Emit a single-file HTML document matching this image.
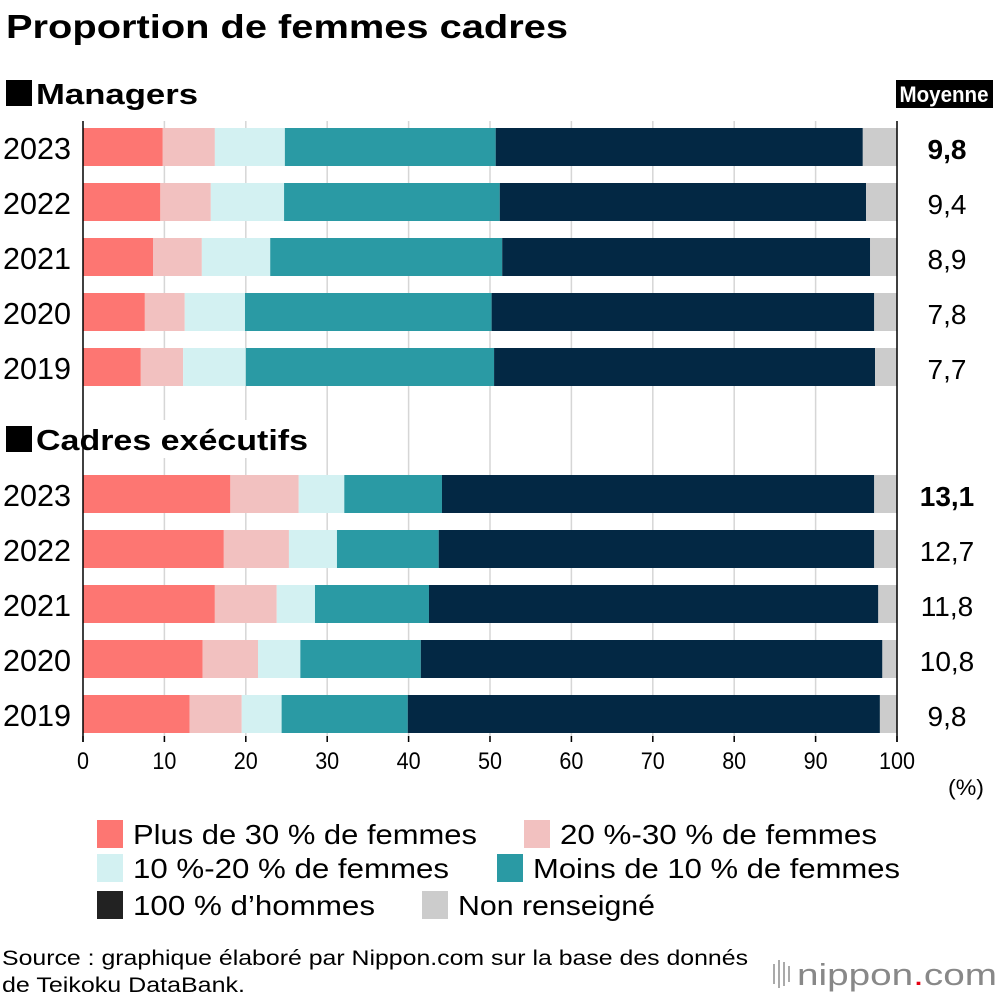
<!DOCTYPE html>
<html><head><meta charset="utf-8"><style>
html,body{margin:0;padding:0;background:#fff}
svg{display:block;font-family:"Liberation Sans Narrow","Liberation Sans",sans-serif}
</style></head><body>
<svg id="chart" width="1000" height="1000" viewBox="0 0 1000 1000" xmlns="http://www.w3.org/2000/svg">
<text x="6" y="38" font-size="33" font-weight="bold" font-family="Liberation Sans, sans-serif" textLength="562" lengthAdjust="spacingAndGlyphs">Proportion de femmes cadres</text>
<rect x="6" y="80" width="26" height="26" fill="#000"/>
<text x="36" y="104" font-size="29" font-weight="bold" font-family="Liberation Sans, sans-serif" textLength="162" lengthAdjust="spacingAndGlyphs">Managers</text>
<rect x="896" y="80" width="97" height="28" fill="#000"/>
<text x="944" y="102" font-size="22" font-weight="bold" fill="#fff" text-anchor="middle" textLength="89" lengthAdjust="spacingAndGlyphs">Moyenne</text>
<rect x="6" y="426" width="26" height="26" fill="#000"/>
<g id="grid"></g>
<rect x="34" y="420" width="280" height="38" fill="#fff"/>
<text x="36" y="450" font-size="29" font-weight="bold" font-family="Liberation Sans, sans-serif" textLength="272" lengthAdjust="spacingAndGlyphs">Cadres exécutifs</text>
<g id="bars"></g><g id="axis"></g><g id="legend"></g>
<text x="966" y="795" font-size="22" text-anchor="middle" textLength="36" lengthAdjust="spacingAndGlyphs">(%)</text>
<text x="2" y="965" font-size="21" textLength="746" lengthAdjust="spacingAndGlyphs">Source : graphique élaboré par Nippon.com sur la base des donnés</text>
<text x="2" y="992" font-size="21" textLength="243" lengthAdjust="spacingAndGlyphs">de Teikoku DataBank.</text>
<g>
<rect x="773" y="964" width="2" height="20" fill="#aaa"/><rect x="778" y="960" width="2" height="28" fill="#aaa"/><rect x="783" y="962" width="2" height="24" fill="#aaa"/><rect x="788" y="966" width="2" height="16" fill="#aaa"/>
<text x="797" y="985" font-size="31" fill="#888" textLength="200" lengthAdjust="spacingAndGlyphs">nippon<tspan fill="#e60012">.</tspan>com</text>
</g>
</svg>
<script>
const years = ['2023','2022','2021','2020','2019'];
const mgrPlus30 = [9.8,9.5,8.6,7.6,7.1];
const mgr20to30 = [6.4,6.2,6.0,4.9,5.2];
const mgr10to20 = [8.6,9.0,8.4,7.4,7.7];
const mgrUnder10 = [25.9,26.5,28.5,30.3,30.5];
const mgrMen = [45.1,45.0,45.2,47.0,46.8];
const mgrNA = [4.2,3.8,3.3,2.8,2.7];
const mgrAvg = ['9,8','9,4','8,9','7,8','7,7'];
const exePlus30 = [18.1,17.3,16.2,14.7,13.1];
const exe20to30 = [8.4,8.0,7.6,6.8,6.4];
const exe10to20 = [5.6,5.9,4.7,5.2,4.9];
const exeUnder10 = [12.0,12.5,14.0,14.8,15.5];
const exeMen = [53.1,53.5,55.2,56.7,58.0];
const exeNA = [2.8,2.8,2.3,1.8,2.1];
const exeAvg = ['13,1','12,7','11,8','10,8','9,8'];
const ticks = [0,10,20,30,40,50,60,70,80,90,100];
const seriesNames = ['Plus de 30 % de femmes','20 %-30 % de femmes','10 %-20 % de femmes','Moins de 10 % de femmes','100 % d\u2019hommes','Non renseigné'];
const colors = ['#fd7672','#f2c1c0','#d3f1f2','#2a9aa4','#032844','#cccccc'];
const NS='http://www.w3.org/2000/svg';
const X0=83, X1=897;
const x = v => X0 + (X1-X0)*v/100;
function mk(tag, attrs, parent){const e=document.createElementNS(NS,tag);for(const k in attrs)e.setAttribute(k,attrs[k]);parent.appendChild(e);return e;}
const grid=document.getElementById('grid'), bars=document.getElementById('bars'), axis=document.getElementById('axis'), legend=document.getElementById('legend');
ticks.forEach(t=>{
  if(t>0&&t<100){const l=mk('line',{x1:x(t),x2:x(t),y1:121,y2:742,stroke:'#d6d6d6','stroke-width':1.5},grid);
  
  }
  const tk=mk('line',{x1:x(t),x2:x(t),y1:736,y2:742,stroke:'#000','stroke-width':1.5},axis);
  
  
  const tl=mk('text',{x:x(t),y:769,'font-size':24,'text-anchor':'middle',textLength:String(t).length*12,lengthAdjust:'spacingAndGlyphs'},axis);
  tl.textContent=t;
  
  
});
[[X0,'y-axis-left'],[X1,'y-axis-right']].forEach(([px,n])=>{
  const l=mk('line',{x1:px,x2:px,y1:121,y2:742,stroke:'#000','stroke-width':1.5},axis);
  
  
});
function group(series, avgs, top, prefix){
  years.forEach((yr,i)=>{
    const y=top+i*55;
    let acc=0;
    series.forEach((s,j)=>{
      const r=mk('rect',{x:x(acc),y:y,width:x(acc+s[i])-x(acc),height:38,fill:colors[j]},bars);
      
      
      acc+=s[i];
    });
    const yl=mk('text',{x:37,y:y+31,'font-size':31,'text-anchor':'middle',textLength:68,lengthAdjust:'spacingAndGlyphs'},bars);
    yl.textContent=yr;
    
    
    const al=mk('text',{x:947,y:y+31,'font-size':28,'text-anchor':'middle','font-weight':i===0?'bold':'normal','font-family':i===0?'Liberation Sans, sans-serif':'inherit'},bars);
    al.textContent=avgs[i];
    
    
  });
}
group([mgrPlus30,mgr20to30,mgr10to20,mgrUnder10,mgrMen,mgrNA],mgrAvg,128,'managers');
group([exePlus30,exe20to30,exe10to20,exeUnder10,exeMen,exeNA],exeAvg,475,'executives');
const legColors=['#fd7672','#f2c1c0','#d3f1f2','#2a9aa4','#222222','#cccccc'];
const legX=[97,524,97,497,97,422];
const legW=[344,317,316,367,242,197];
seriesNames.forEach((n,i)=>{
  const row=Math.floor(i/2);
  const lx=legX[i], ly=[820,854,891][row];
  const r=mk('rect',{x:lx,y:ly,width:26,height:28,fill:legColors[i]},legend);
  
  
  const t=mk('text',{x:lx+36,y:ly+24,'font-size':28,textLength:legW[i],lengthAdjust:'spacingAndGlyphs'},legend);
  t.textContent=n;
  
  
});
</script>
</body></html>
